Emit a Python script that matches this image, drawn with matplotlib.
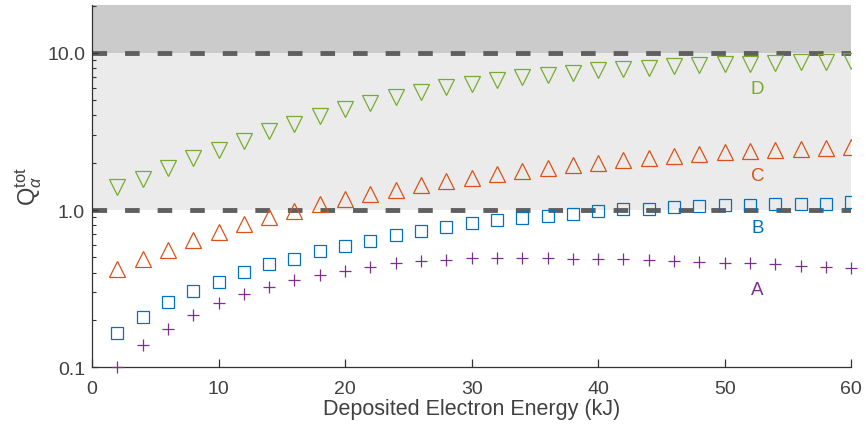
import numpy as np
import matplotlib
matplotlib.use('Agg')
import matplotlib.pyplot as plt
from matplotlib.ticker import FixedLocator, LogLocator, NullFormatter

plt.rcParams['font.family'] = ['Liberation Sans', 'DejaVu Sans']
plt.rcParams['mathtext.fontset'] = 'custom'
plt.rcParams['mathtext.rm'] = 'Liberation Sans'
plt.rcParams['mathtext.it'] = 'Liberation Sans:italic'

# deposited electron energy (kJ)
energy = np.arange(2, 61, 2)

# Q_alpha^tot for each case
q_a = [0.100, 0.138, 0.174, 0.214, 0.255, 0.292, 0.325, 0.356, 0.384, 0.411,
       0.435, 0.457, 0.475, 0.480, 0.492, 0.492, 0.497, 0.497, 0.490, 0.490,
       0.487, 0.480, 0.475, 0.469, 0.462, 0.457, 0.450, 0.440, 0.435, 0.425]
q_b = [0.164, 0.209, 0.258, 0.306, 0.349, 0.403, 0.451, 0.491, 0.548, 0.593,
       0.638, 0.690, 0.738, 0.776, 0.830, 0.863, 0.893, 0.920, 0.945, 0.985,
       1.01, 1.02, 1.04, 1.06, 1.076, 1.08, 1.10, 1.10, 1.10, 1.13]
q_c = [0.42, 0.487, 0.56, 0.644, 0.724, 0.814, 0.90, 0.985, 1.09, 1.17,
       1.26, 1.35, 1.44, 1.53, 1.61, 1.70, 1.78, 1.86, 1.935, 2.00,
       2.07, 2.14, 2.22, 2.27, 2.33, 2.36, 2.42, 2.46, 2.49, 2.52]
q_d = [1.40, 1.58, 1.85, 2.14, 2.41, 2.75, 3.18, 3.55, 3.95, 4.38,
       4.78, 5.27, 5.67, 6.05, 6.35, 6.72, 7.00, 7.27, 7.48, 7.80,
       7.90, 8.05, 8.20, 8.40, 8.50, 8.50, 8.60, 8.70, 8.75, 8.85]

labels = ['A', 'B', 'C', 'D']
label_y = [0.314, 0.77, 1.65, 5.98]
colors = ['#7E2F8E', '#0072BD', '#D95319', '#77AC30']

fig = plt.figure(figsize=(8.65, 4.27), dpi=100)
ax = fig.add_axes([0.1064, 0.138, 0.8776, 0.848])

ax.set_yscale('log')
ax.set_xlim(0, 60)
ax.set_ylim(0.1, 20.2)

# shaded bands and thresholds
ax.axhspan(10, 20.2, color='#cbcbcb', lw=0, zorder=0)
ax.axhspan(1, 10, color='#ebebeb', lw=0, zorder=0)
for yl in [1, 10]:
    ax.axhline(yl, color='#5f5f5f', lw=3.5, ls=(0, (3.0, 3.7)), zorder=1)

ax.plot(energy, q_a, ls='none', marker='+', ms=9, mew=0.9, color=colors[0], zorder=3, clip_on=False)
ax.plot(energy, q_b, ls='none', marker='s', ms=8, mew=0.9, mfc='none', color=colors[1], zorder=3)
ax.plot(energy, q_c, ls='none', marker='^', ms=11, mew=0.9, mfc='none', color=colors[2], zorder=3)
ax.plot(energy, q_d, ls='none', marker='v', ms=11, mew=0.9, mfc='none', color=colors[3], zorder=3)

for lab, yv, c in zip(labels, label_y, colors):
    ax.text(52.6, yv, lab, color=c, fontsize=13.5, ha='center', va='center')

ax.spines['top'].set_visible(False)
ax.spines['right'].set_visible(False)
for s in ['left', 'bottom']:
    ax.spines[s].set_color('#333333')
    ax.spines[s].set_linewidth(0.9)

ax.set_xticks(np.arange(0, 61, 10))
ax.yaxis.set_major_locator(FixedLocator([0.1, 1, 10]))
ax.set_yticklabels(['0.1', '1.0', '10.0'])
ax.yaxis.set_minor_locator(LogLocator(base=10, subs=np.arange(2, 10)))
ax.yaxis.set_minor_formatter(NullFormatter())
ax.tick_params(axis='both', which='major', direction='in', labelsize=14,
               colors='#333333', labelcolor='#404040', width=0.9)
ax.tick_params(axis='x', which='major', length=6, pad=9)
ax.tick_params(axis='y', which='major', length=4, pad=5)
ax.tick_params(axis='y', which='minor', direction='in', length=3, width=0.8, colors='#333333')

ax.set_xlabel('Deposited Electron Energy (kJ)', fontsize=15.5, color='#404040', labelpad=1)
ax.set_ylabel(r'$\mathrm{Q}_{\alpha}^{\mathrm{tot}}$', fontsize=17, color='#404040', labelpad=2)

fig.savefig('out.png', dpi=100)
